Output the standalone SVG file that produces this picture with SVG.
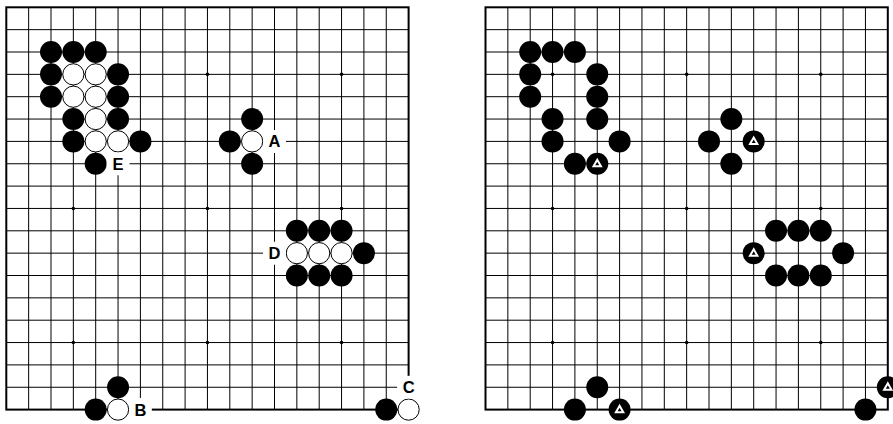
<svg xmlns="http://www.w3.org/2000/svg" xmlns:xlink="http://www.w3.org/1999/xlink" width="893" height="424" viewBox="0 0 893 424">
<style>
.ln{stroke:#000;stroke-width:1;fill:none}
.bd{stroke:#000;stroke-width:2;fill:none}
.blk{fill:#000}
.wht{fill:#fff;stroke:#000;stroke-width:1}
.tri{fill:none;stroke:#fff;stroke-width:2;stroke-linejoin:miter}
.lbg{fill:#fff}
.lbl{font-family:"Liberation Sans",Arial,sans-serif;font-weight:bold;font-size:16.5px;fill:#000;text-anchor:middle}
</style>
<defs>
<g id="grid">
<path class="ln" d="M6.3 29.65H408.6M6.3 52H408.6M6.3 74.35H408.6M6.3 96.7H408.6M6.3 119.05H408.6M6.3 141.4H408.6M6.3 163.75H408.6M6.3 186.1H408.6M6.3 208.45H408.6M6.3 230.8H408.6M6.3 253.15H408.6M6.3 275.5H408.6M6.3 297.85H408.6M6.3 320.2H408.6M6.3 342.55H408.6M6.3 364.9H408.6M6.3 387.25H408.6M28.65 7.3V409.6M51 7.3V409.6M73.35 7.3V409.6M95.7 7.3V409.6M118.05 7.3V409.6M140.4 7.3V409.6M162.75 7.3V409.6M185.1 7.3V409.6M207.45 7.3V409.6M229.8 7.3V409.6M252.15 7.3V409.6M274.5 7.3V409.6M296.85 7.3V409.6M319.2 7.3V409.6M341.55 7.3V409.6M363.9 7.3V409.6M386.25 7.3V409.6"/>
<rect class="bd" x="6.3" y="7.3" width="402.3" height="402.3"/>
<g class="blk">
<circle cx="73.35" cy="74.35" r="1.8"/><circle cx="207.45" cy="74.35" r="1.8"/><circle cx="341.55" cy="74.35" r="1.8"/>
<circle cx="73.35" cy="208.45" r="1.8"/><circle cx="207.45" cy="208.45" r="1.8"/><circle cx="341.55" cy="208.45" r="1.8"/>
<circle cx="73.35" cy="342.55" r="1.8"/><circle cx="207.45" cy="342.55" r="1.8"/><circle cx="341.55" cy="342.55" r="1.8"/>
</g>
</g>
<circle id="b" class="blk" r="11"/>
<circle id="w" class="wht" r="10.6"/>
<g id="t"><circle class="blk" r="11"/><polygon class="tri" points="0,-3.9 3.7,2.6 -3.7,2.6"/></g>
<circle id="lb" class="lbg" r="11.5"/>
</defs>

<g id="board-left"><use xlink:href="#grid"/></g>
<g id="board-right"><use xlink:href="#grid" x="479.2"/></g>

<g id="stones-left">
<g id="L-b-2-2"><use xlink:href="#b" x="51" y="52"/></g>
<g id="L-b-3-2"><use xlink:href="#b" x="73.35" y="52"/></g>
<g id="L-b-4-2"><use xlink:href="#b" x="95.7" y="52"/></g>
<g id="L-b-2-3"><use xlink:href="#b" x="51" y="74.35"/></g>
<g id="L-w-3-3"><use xlink:href="#w" x="73.35" y="74.35"/></g>
<g id="L-w-4-3"><use xlink:href="#w" x="95.7" y="74.35"/></g>
<g id="L-b-5-3"><use xlink:href="#b" x="118.05" y="74.35"/></g>
<g id="L-b-2-4"><use xlink:href="#b" x="51" y="96.7"/></g>
<g id="L-w-3-4"><use xlink:href="#w" x="73.35" y="96.7"/></g>
<g id="L-w-4-4"><use xlink:href="#w" x="95.7" y="96.7"/></g>
<g id="L-b-5-4"><use xlink:href="#b" x="118.05" y="96.7"/></g>
<g id="L-b-3-5"><use xlink:href="#b" x="73.35" y="119.05"/></g>
<g id="L-w-4-5"><use xlink:href="#w" x="95.7" y="119.05"/></g>
<g id="L-b-5-5"><use xlink:href="#b" x="118.05" y="119.05"/></g>
<g id="L-b-3-6"><use xlink:href="#b" x="73.35" y="141.4"/></g>
<g id="L-w-4-6"><use xlink:href="#w" x="95.7" y="141.4"/></g>
<g id="L-w-5-6"><use xlink:href="#w" x="118.05" y="141.4"/></g>
<g id="L-b-6-6"><use xlink:href="#b" x="140.4" y="141.4"/></g>
<g id="L-b-4-7"><use xlink:href="#b" x="95.7" y="163.75"/></g>
<g id="L-b-11-5"><use xlink:href="#b" x="252.15" y="119.05"/></g>
<g id="L-b-10-6"><use xlink:href="#b" x="229.8" y="141.4"/></g>
<g id="L-w-11-6"><use xlink:href="#w" x="252.15" y="141.4"/></g>
<g id="L-b-11-7"><use xlink:href="#b" x="252.15" y="163.75"/></g>
<g id="L-b-13-10"><use xlink:href="#b" x="296.85" y="230.8"/></g>
<g id="L-b-14-10"><use xlink:href="#b" x="319.2" y="230.8"/></g>
<g id="L-b-15-10"><use xlink:href="#b" x="341.55" y="230.8"/></g>
<g id="L-w-13-11"><use xlink:href="#w" x="296.85" y="253.15"/></g>
<g id="L-w-14-11"><use xlink:href="#w" x="319.2" y="253.15"/></g>
<g id="L-w-15-11"><use xlink:href="#w" x="341.55" y="253.15"/></g>
<g id="L-b-16-11"><use xlink:href="#b" x="363.9" y="253.15"/></g>
<g id="L-b-13-12"><use xlink:href="#b" x="296.85" y="275.5"/></g>
<g id="L-b-14-12"><use xlink:href="#b" x="319.2" y="275.5"/></g>
<g id="L-b-15-12"><use xlink:href="#b" x="341.55" y="275.5"/></g>
<g id="L-b-5-17"><use xlink:href="#b" x="118.05" y="387.25"/></g>
<g id="L-b-4-18"><use xlink:href="#b" x="95.7" y="409.6"/></g>
<g id="L-w-5-18"><use xlink:href="#w" x="118.05" y="409.6"/></g>
<g id="L-b-17-18"><use xlink:href="#b" x="386.25" y="409.6"/></g>
<g id="L-w-18-18"><use xlink:href="#w" x="408.6" y="409.6"/></g>
</g>

<g id="labels-left">
<g id="label-E"><use xlink:href="#lb" x="118.05" y="163.75"/><text class="lbl" x="118.05" y="169.7">E</text></g>
<g id="label-A"><use xlink:href="#lb" x="274.5" y="141.4"/><text class="lbl" x="274.5" y="147.3">A</text></g>
<g id="label-D"><use xlink:href="#lb" x="274.5" y="253.15"/><text class="lbl" x="274.5" y="259.1">D</text></g>
<g id="label-B"><use xlink:href="#lb" x="140.4" y="409.6"/><text class="lbl" x="140.4" y="415.5">B</text></g>
<g id="label-C"><use xlink:href="#lb" x="408.6" y="387.25"/><text class="lbl" x="408.6" y="393.2">C</text></g>
</g>

<g id="stones-right">
<g id="R-b-2-2"><use xlink:href="#b" x="530.2" y="52"/></g>
<g id="R-b-3-2"><use xlink:href="#b" x="552.55" y="52"/></g>
<g id="R-b-4-2"><use xlink:href="#b" x="574.9" y="52"/></g>
<g id="R-b-2-3"><use xlink:href="#b" x="530.2" y="74.35"/></g>
<g id="R-b-5-3"><use xlink:href="#b" x="597.25" y="74.35"/></g>
<g id="R-b-2-4"><use xlink:href="#b" x="530.2" y="96.7"/></g>
<g id="R-b-5-4"><use xlink:href="#b" x="597.25" y="96.7"/></g>
<g id="R-b-3-5"><use xlink:href="#b" x="552.55" y="119.05"/></g>
<g id="R-b-5-5"><use xlink:href="#b" x="597.25" y="119.05"/></g>
<g id="R-b-3-6"><use xlink:href="#b" x="552.55" y="141.4"/></g>
<g id="R-b-6-6"><use xlink:href="#b" x="619.6" y="141.4"/></g>
<g id="R-b-4-7"><use xlink:href="#b" x="574.9" y="163.75"/></g>
<g id="R-t-5-7"><use xlink:href="#t" x="597.25" y="163.75"/></g>
<g id="R-b-11-5"><use xlink:href="#b" x="731.35" y="119.05"/></g>
<g id="R-b-10-6"><use xlink:href="#b" x="709" y="141.4"/></g>
<g id="R-t-12-6"><use xlink:href="#t" x="753.7" y="141.4"/></g>
<g id="R-b-11-7"><use xlink:href="#b" x="731.35" y="163.75"/></g>
<g id="R-b-13-10"><use xlink:href="#b" x="776.05" y="230.8"/></g>
<g id="R-b-14-10"><use xlink:href="#b" x="798.4" y="230.8"/></g>
<g id="R-b-15-10"><use xlink:href="#b" x="820.75" y="230.8"/></g>
<g id="R-t-12-11"><use xlink:href="#t" x="753.7" y="253.15"/></g>
<g id="R-b-16-11"><use xlink:href="#b" x="843.1" y="253.15"/></g>
<g id="R-b-13-12"><use xlink:href="#b" x="776.05" y="275.5"/></g>
<g id="R-b-14-12"><use xlink:href="#b" x="798.4" y="275.5"/></g>
<g id="R-b-15-12"><use xlink:href="#b" x="820.75" y="275.5"/></g>
<g id="R-b-5-17"><use xlink:href="#b" x="597.25" y="387.25"/></g>
<g id="R-b-4-18"><use xlink:href="#b" x="574.9" y="409.6"/></g>
<g id="R-t-6-18"><use xlink:href="#t" x="619.6" y="409.6"/></g>
<g id="R-t-18-17"><use xlink:href="#t" x="887.8" y="387.25"/></g>
<g id="R-b-17-18"><use xlink:href="#b" x="865.45" y="409.6"/></g>
</g>
</svg>
